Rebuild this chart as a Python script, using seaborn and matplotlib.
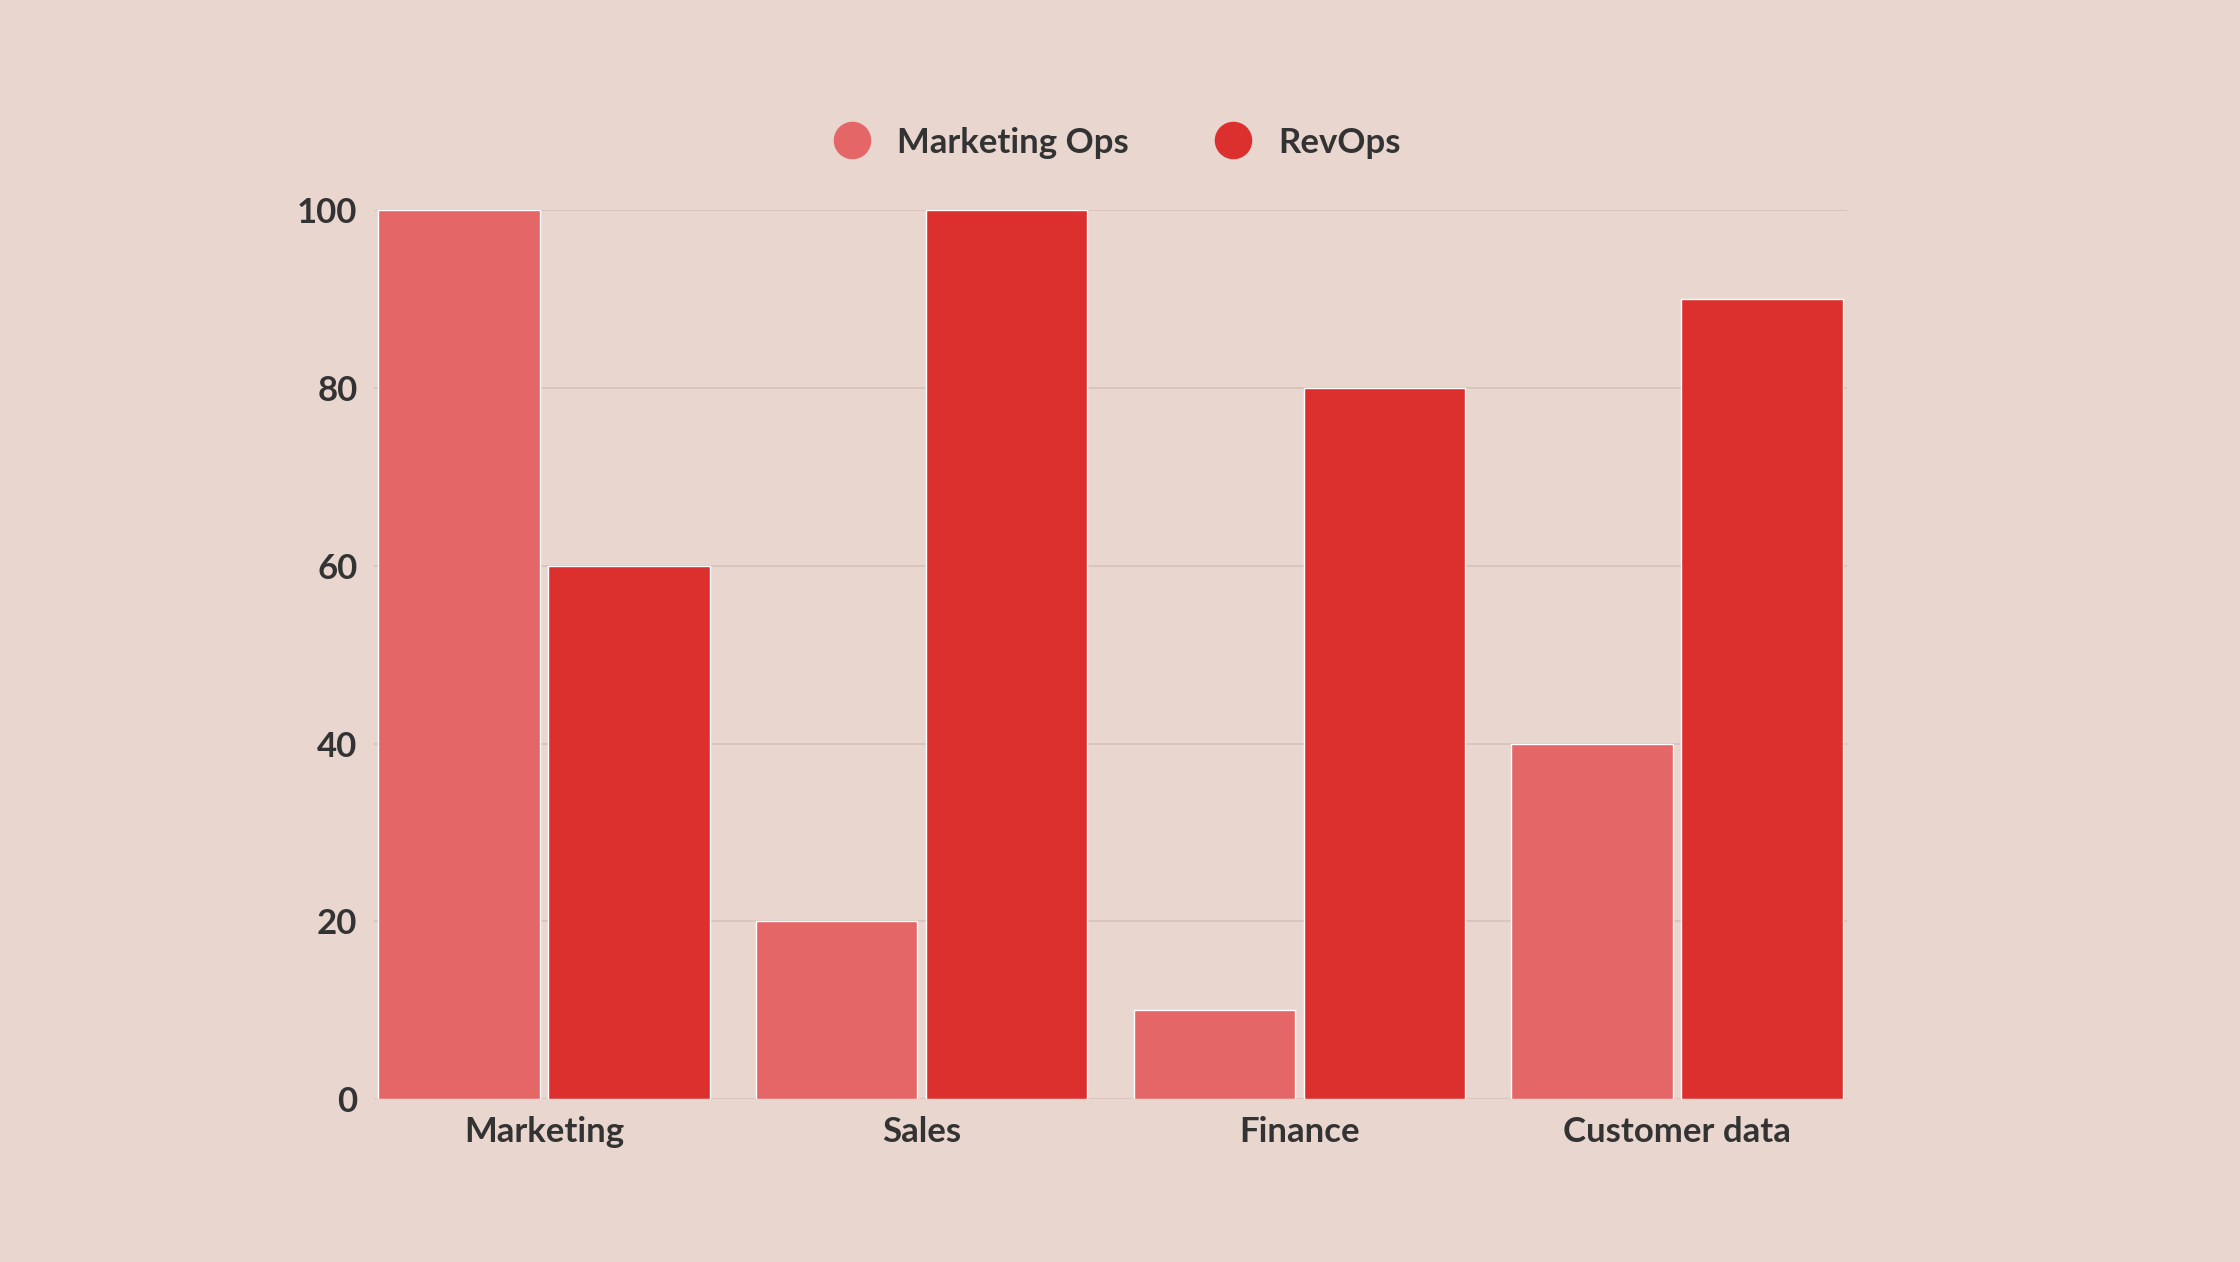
import matplotlib
matplotlib.use("Agg")
import matplotlib.pyplot as plt
import seaborn as sns
import pandas as pd
from matplotlib.lines import Line2D

categories = ["Marketing", "Sales", "Finance", "Customer data"]
marketing_ops = [100, 20, 10, 40]
revops = [60, 100, 80, 90]
series_names = ["Marketing Ops", "RevOps"]
colors = ["#E46666", "#DC302E"]
yticks = [0, 20, 40, 60, 80, 100]

df = pd.DataFrame({
    "cat": categories * 2,
    "val": marketing_ops + revops,
    "series": [series_names[0]] * 4 + [series_names[1]] * 4,
})

sns.set_theme(style="white")
plt.rcParams['font.family'] = ['Lato', 'DejaVu Sans']
bg = "#E8D6CF"
txt = "#333333"
fig = plt.figure(figsize=(22.4, 12.62), dpi=100, facecolor=bg)
ax = fig.add_axes([0.167, 0.129, 0.6576, 0.7045])
ax.set_facecolor(bg)
sns.barplot(data=df, x="cat", y="val", hue="series", palette=colors,
            width=0.9, gap=0.05, ax=ax, legend=False, saturation=1, zorder=3)
ax.set_xlim(-0.45, 3.45)
ax.set_ylim(0, 100)
ax.set_yticks(yticks)
ax.set_yticklabels([str(t) for t in yticks])
ax.grid(axis="y", color="#D6C2BA", linewidth=1.2, zorder=0)
for s in ax.spines.values():
    s.set_visible(False)
ax.set_xlabel("")
ax.set_ylabel("")
ax.tick_params(axis="both", length=0, labelsize=25, labelcolor=txt, pad=12)
for lab in ax.get_xticklabels() + ax.get_yticklabels():
    lab.set_fontweight("bold")
handles = [Line2D([], [], marker="o", linestyle="", markersize=26, color=c) for c in colors]
fig.legend(handles, series_names, loc="center", bbox_to_anchor=(0.495, 0.887), ncol=2,
           frameon=False, fontsize=25, handletextpad=0.3, columnspacing=2.0,
           labelcolor=txt, prop={"weight": "bold", "size": 25})
fig.savefig("out.png", dpi=100, facecolor=bg)
